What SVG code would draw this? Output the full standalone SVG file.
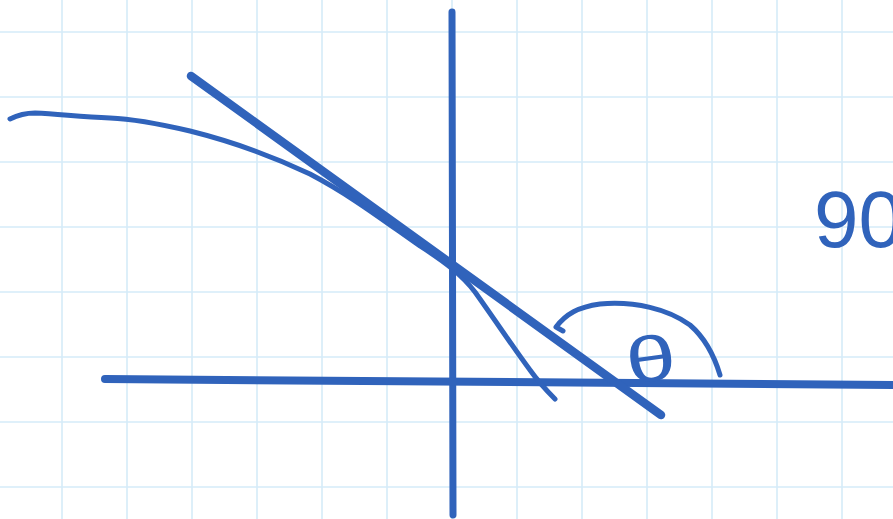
<svg xmlns="http://www.w3.org/2000/svg" width="893" height="519" viewBox="0 0 893 519">
<style>
.grid line{stroke:#d5ebf8;stroke-width:1.6}
.ink{fill:none;stroke:#3063bb;stroke-linecap:round;stroke-linejoin:round}
.hand{fill:#3063bb;font-family:"Liberation Sans","DejaVu Sans",sans-serif}
</style>
<rect width="893" height="519" fill="#ffffff"/>
<g id="grid" class="grid">
<line x1="62" y1="0" x2="62" y2="519"/><line x1="127" y1="0" x2="127" y2="519"/><line x1="192" y1="0" x2="192" y2="519"/><line x1="257" y1="0" x2="257" y2="519"/><line x1="322" y1="0" x2="322" y2="519"/><line x1="387" y1="0" x2="387" y2="519"/><line x1="452" y1="0" x2="452" y2="519"/><line x1="517" y1="0" x2="517" y2="519"/><line x1="582" y1="0" x2="582" y2="519"/><line x1="647" y1="0" x2="647" y2="519"/><line x1="712" y1="0" x2="712" y2="519"/><line x1="777" y1="0" x2="777" y2="519"/><line x1="842" y1="0" x2="842" y2="519"/>
<line x1="0" y1="32" x2="893" y2="32"/><line x1="0" y1="97" x2="893" y2="97"/><line x1="0" y1="162" x2="893" y2="162"/><line x1="0" y1="227" x2="893" y2="227"/><line x1="0" y1="292" x2="893" y2="292"/><line x1="0" y1="357" x2="893" y2="357"/><line x1="0" y1="422" x2="893" y2="422"/><line x1="0" y1="487" x2="893" y2="487"/>
</g>
<g id="axes" class="ink">
<path d="M452 12 L453 515" stroke-width="7"/>
<path d="M105 379 L893 385" stroke-width="8"/>
</g>
<g id="curve" class="ink">
<path d="M10 119 C20 114 28 113 35 113 C60 114 80 117 110 118 C135 119 160 124 190 131 C230 141 270 155 310 174 C350 195 380 218 420 246 C445 262 462 275 475 292 C495 320 515 350 530 370 C540 384 548 392 555 399" stroke-width="5"/>
</g>
<g id="tangent" class="ink">
<path d="M191 76 L661 415" stroke-width="8.5"/>
</g>
<g id="angle-arc" class="ink">
<path d="M563 331 L556 327 C566 314 578 307 600 304 C635 301 668 309 690 325 C705 338 714 355 720 375" stroke-width="5"/>
</g>
<g id="theta">
<text class="hand" font-size="64" text-anchor="middle" transform="translate(654,381) rotate(-8) scale(1.4,1)">θ</text>
</g>
<g id="label-90">
<text class="hand" font-size="80" x="814" y="247">90</text>
</g>
</svg>
